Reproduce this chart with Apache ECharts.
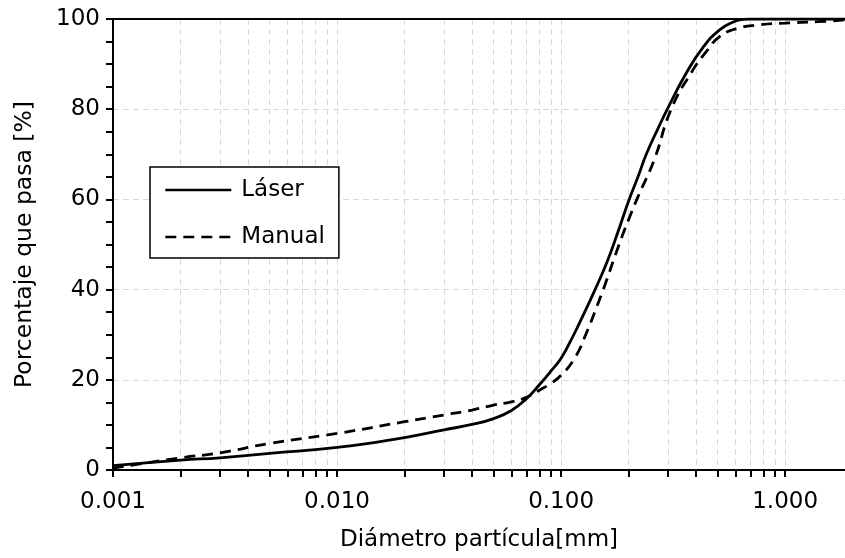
<!DOCTYPE html>
<html>
<head>
<meta charset="utf-8">
<script src="https://cdn.jsdelivr.net/npm/echarts@6/dist/echarts.min.js"></script>
<style>
  html, body { margin: 0; padding: 0; background: #fff; }
  #chart { width: 845px; height: 558px; }
</style>
</head>
<body>
<div id="chart"></div>
<script>
/* datos: diámetro [mm] y porcentaje que pasa [%] */
var laserDiam = [0.001, 0.002, 0.003, 0.005, 0.01, 0.02, 0.03, 0.04, 0.05, 0.06, 0.07, 0.08, 0.09, 0.1,
                 0.11, 0.12, 0.14, 0.16, 0.18, 0.2, 0.22, 0.24, 0.27, 0.3, 0.36, 0.43, 0.51, 0.59, 0.65, 0.7, 1, 1.85];
var laserPass = [0.95, 2.2, 2.7, 3.7, 5.0, 7.2, 8.9, 10.1, 11.4, 13.2, 15.8, 18.9, 21.9, 24.8,
                 28.5, 32.3, 39.4, 46, 53, 59.6, 64.9, 70.0, 75.6, 80.3, 87.8, 93.7, 97.6, 99.4, 99.9, 100, 100, 100];

var manualDiam = [0.001, 0.002, 0.003, 0.005, 0.01, 0.02, 0.03, 0.04, 0.05, 0.06, 0.07, 0.08, 0.09, 0.1,
                  0.115, 0.13, 0.145, 0.155, 0.18, 0.2, 0.22, 0.26, 0.31, 0.38, 0.45, 0.51, 0.61, 0.77, 1, 1.4, 1.85];
var manualPass = [0.4, 2.7, 3.8, 5.9, 8.1, 10.7, 12.2, 13.3, 14.4, 15.1, 16.1, 17.7, 19.2, 21,
                  24.8, 30.5, 36.5, 40.3, 49.5, 55.5, 60.5, 68.7, 80, 88, 93.1, 96.1, 97.9, 98.7, 99.1, 99.4, 99.8];

/* eje x logarítmico: marcas principales y secundarias */
var xMajor = [0.001, 0.01, 0.1, 1];
var xMinorTicks = [0.002, 0.003, 0.004, 0.005, 0.006, 0.007, 0.008, 0.009,
                   0.02, 0.03, 0.04, 0.05, 0.06, 0.07, 0.08, 0.09,
                   0.2, 0.3, 0.4, 0.5, 0.6, 0.7, 0.8, 0.9];
var xMin = 0.001, xMax = 1.85;

(function () {
  var myEchart = echarts.init(document.getElementById('chart'), null, { renderer: 'canvas' });
  var lg = function (v) { return Math.log10(v); };
  var toPts = function (d, p) { return d.map(function (v, i) { return [lg(v), p[i]]; }); };
  var font = 'DejaVu Sans';
  var allTicks = xMajor.concat(xMinorTicks).map(lg);

  var option = {
    backgroundColor: '#fff',
    animation: false,
    textStyle: { fontFamily: font },
    grid: { left: 113, right: 0, top: 19, bottom: 88 },
    legend: {
      orient: 'vertical',
      left: 150,
      top: 167,
      padding: [10, 14, 8, 14],
      itemGap: 21,
      itemWidth: 66,
      itemHeight: 14,
      backgroundColor: '#fff',
      borderColor: '#000',
      borderWidth: 1.5,
      borderRadius: 0,
      itemStyle: { color: 'transparent', borderWidth: 0 },
      lineStyle: { width: 2.6 },
      textStyle: { color: '#000', fontSize: 23, fontFamily: font, lineHeight: 26, padding: [0, 0, 0, 5] },
      data: ['Láser', 'Manual']
    },
    xAxis: [{
      type: 'value',
      min: lg(xMin),
      max: lg(xMax),
      name: 'Diámetro partícula[mm]',
      nameLocation: 'middle',
      nameGap: 59,
      nameTextStyle: { color: '#000', fontSize: 23, fontFamily: font },
      axisLine: { onZero: false, lineStyle: { color: '#000', width: 2 } },
      axisTick: { show: true, inside: false, length: 7, customValues: allTicks,
                  lineStyle: { color: '#000', width: 2 } },
      axisLabel: {
        customValues: xMajor.map(lg),
        margin: 21,
        color: '#000', fontSize: 23, fontFamily: font,
        formatter: function (v) { return Math.pow(10, v).toFixed(3); }
      },
      splitLine: { show: true, lineStyle: { color: '#d9d9d9', width: 1, type: [6, 4] } }
    }, {
      /* borde superior */
      type: 'value',
      position: 'top',
      min: lg(xMin),
      max: lg(xMax),
      axisLine: { show: true, onZero: false, lineStyle: { color: '#000', width: 2 } },
      axisTick: { show: false },
      axisLabel: { show: false },
      splitLine: { show: false }
    }],
    yAxis: {
      type: 'value',
      min: 0,
      max: 100,
      interval: 20,
      name: 'Porcentaje que pasa [%]',
      nameLocation: 'middle',
      nameGap: 76,
      nameTextStyle: { color: '#000', fontSize: 23.5, fontFamily: font },
      axisLine: { show: true, onZero: false, lineStyle: { color: '#000', width: 2 } },
      axisTick: { show: true, inside: false, length: 7, lineStyle: { color: '#000', width: 2 } },
      minorTick: { show: true, splitNumber: 4, length: 7, lineStyle: { color: '#000', width: 2 } },
      axisLabel: { margin: 13, color: '#000', fontSize: 23, fontFamily: font },
      splitLine: { show: true, lineStyle: { color: '#d9d9d9', width: 1, type: [6, 4] } }
    },
    series: [
      {
        name: 'Láser',
        type: 'line',
        xAxisIndex: 0,
        data: toPts(laserDiam, laserPass),
        smooth: 0.5,
        symbol: 'none',
        lineStyle: { color: '#000', width: 2.8 },
        itemStyle: { color: '#000' },
        z: 3
      },
      {
        name: 'Manual',
        type: 'line',
        xAxisIndex: 0,
        data: toPts(manualDiam, manualPass),
        smooth: 0.5,
        symbol: 'none',
        lineStyle: { color: '#000', width: 2.8, type: [11, 7] },
        itemStyle: { color: '#000' },
        z: 3
      }
    ]
  };
  myEchart.setOption(option);
  window.addEventListener('resize', function () {
    myEchart.resize();
  });
})();
</script>
</body>
</html>
